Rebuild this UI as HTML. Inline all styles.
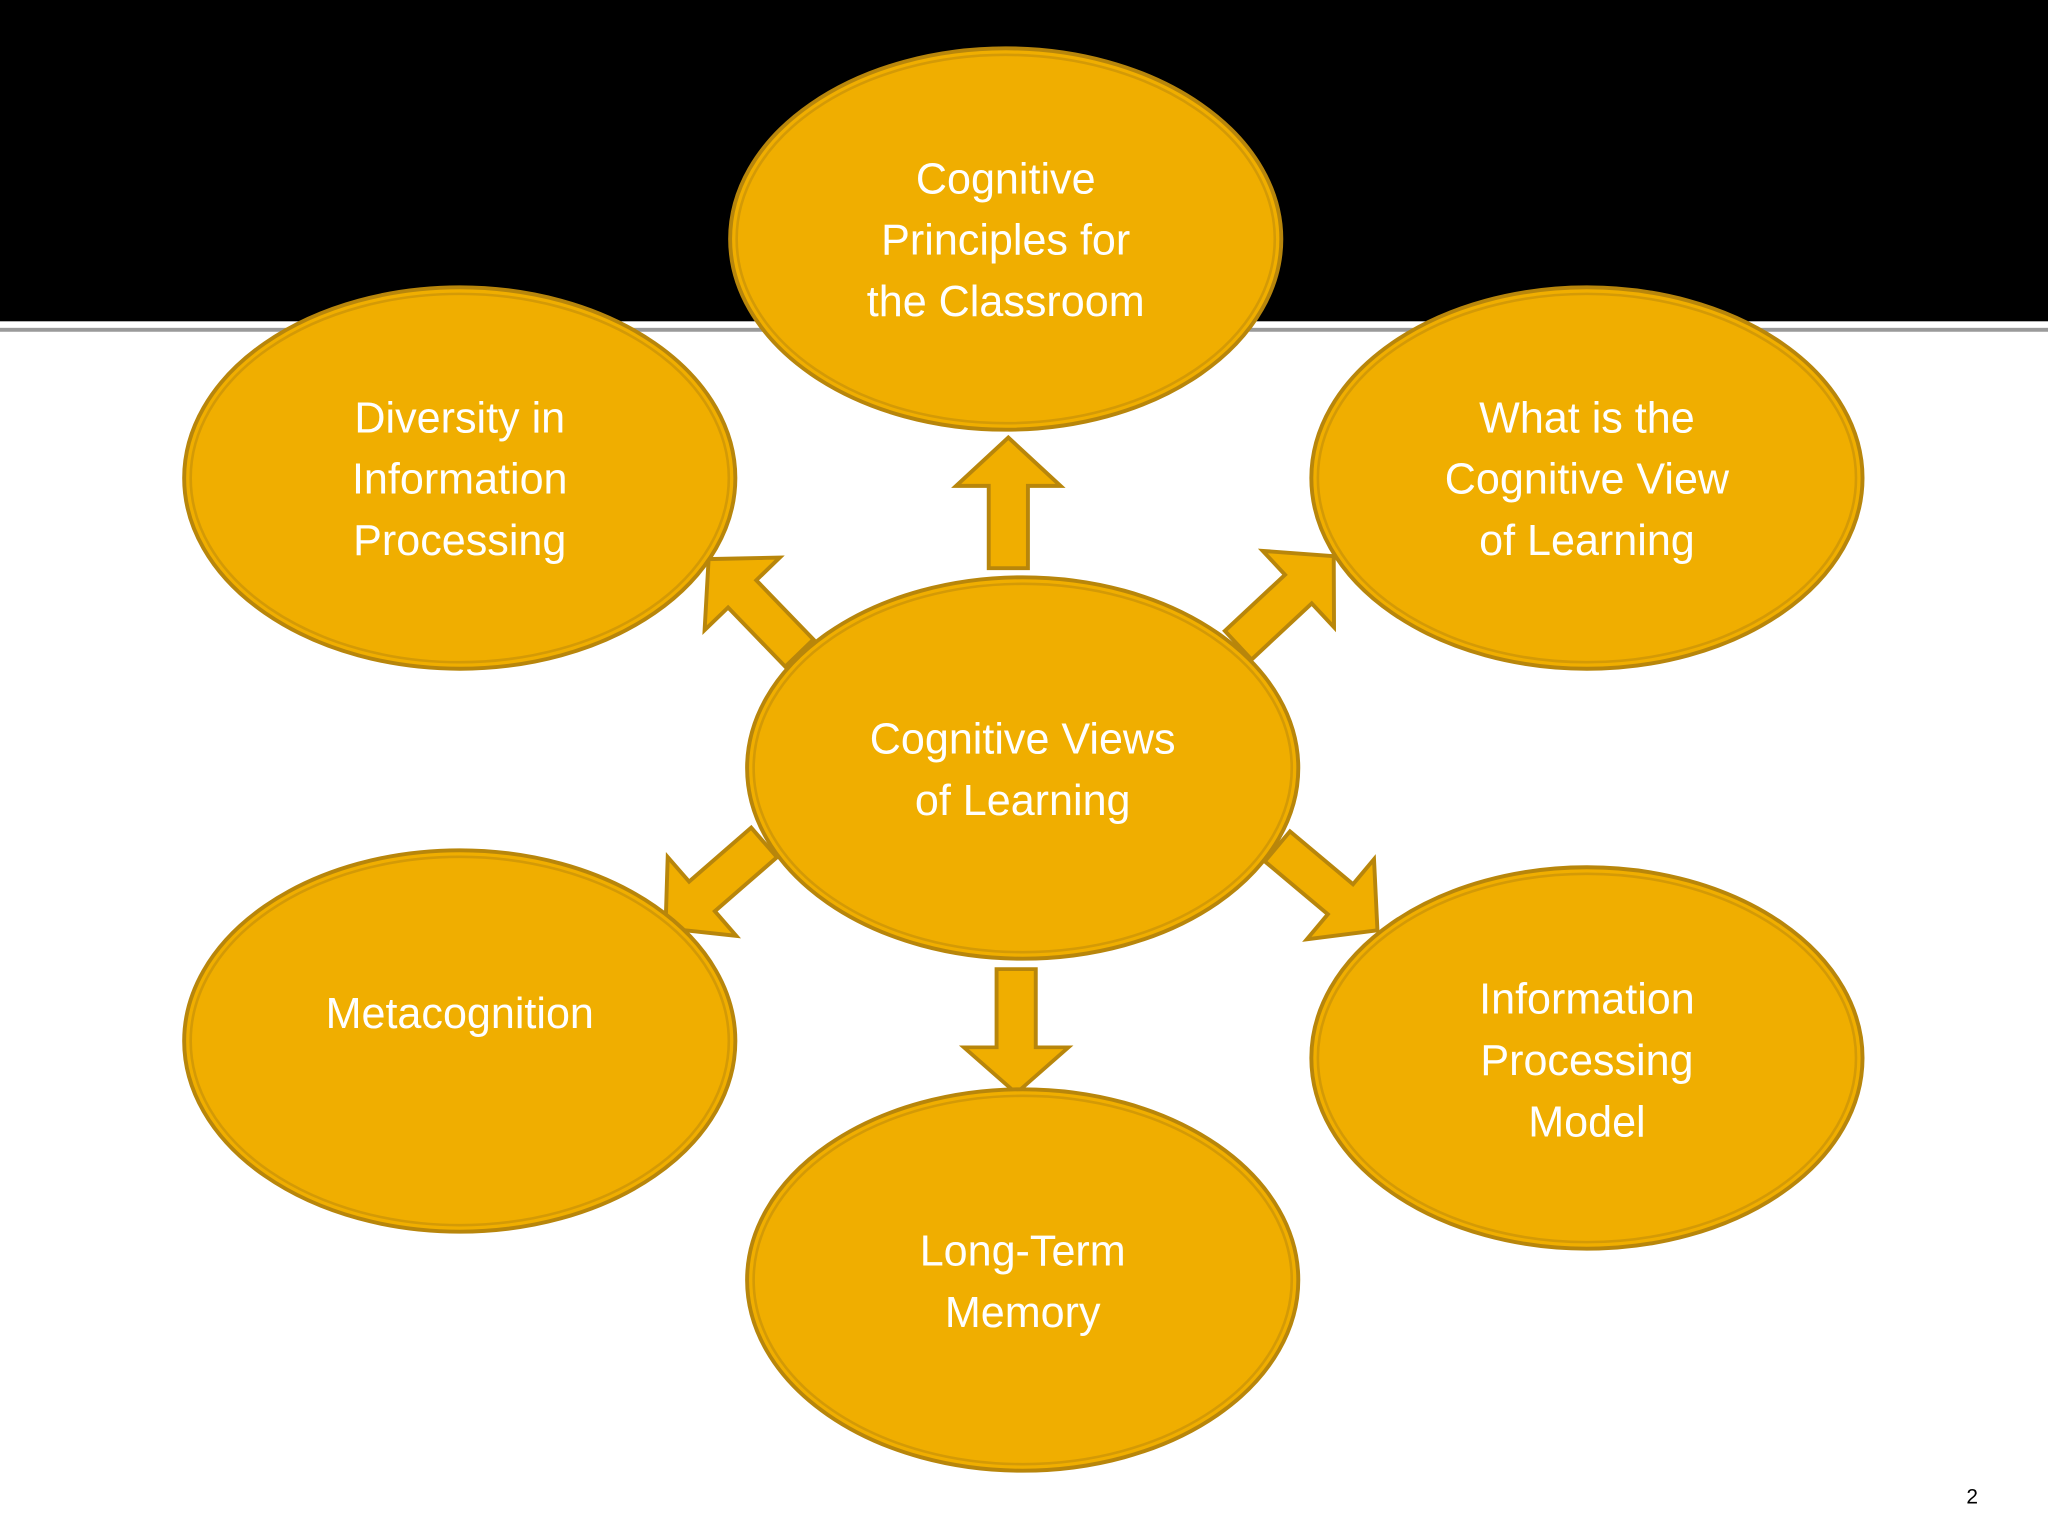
<!DOCTYPE html>
<html><head><meta charset="utf-8"><style>
html,body{margin:0;padding:0;background:#fff;}
svg{display:block;}
text{font-family:"Liberation Sans","DejaVu Sans",sans-serif;fill:#fff;font-size:33px;text-anchor:middle;}
</style></head><body>
<svg width="2048" height="1536" viewBox="0 0 1568 1176" xmlns="http://www.w3.org/2000/svg">
<rect x="0" y="0" width="1568" height="246" fill="#000"/>
<rect x="0" y="251" width="1568" height="3" fill="#9a9a9a"/>
<defs>
<g id="e">
<ellipse cx="0" cy="0" rx="211" ry="146" fill="#F0AE00" stroke="#B8860B" stroke-width="3"/>
<ellipse cx="0" cy="0" rx="206" ry="141" fill="none" stroke="#D49A06" stroke-width="2"/>
</g>
<polygon id="a" points="-15,0 -15,-63 -40,-63 0,-100 40,-63 15,-63 15,0" fill="#F0AE00" stroke="#B8860B" stroke-width="3" stroke-linejoin="miter"/>
</defs>
<use href="#a" transform="translate(772,435) rotate(0)"/>
<use href="#a" transform="translate(778,742) rotate(180) scale(1,0.95)"/>
<use href="#a" transform="translate(612,500) rotate(-44)"/>
<use href="#a" transform="translate(948,494) rotate(47)"/>
<use href="#a" transform="translate(585,645) rotate(-131)"/>
<use href="#a" transform="translate(978,648) rotate(130)"/>
<use href="#e" transform="translate(770,183)"/>
<use href="#e" transform="translate(352,366)"/>
<use href="#e" transform="translate(1215,366)"/>
<use href="#e" transform="translate(783,588)"/>
<use href="#e" transform="translate(352,797)"/>
<use href="#e" transform="translate(1215,810)"/>
<use href="#e" transform="translate(783,980)"/>
<text x="770" y="148">Cognitive</text>
<text x="770" y="195">Principles for</text>
<text x="770" y="242">the Classroom</text>
<text x="352" y="331">Diversity in</text>
<text x="352" y="378">Information</text>
<text x="352" y="425">Processing</text>
<text x="1215" y="331">What is the</text>
<text x="1215" y="378">Cognitive View</text>
<text x="1215" y="425">of Learning</text>
<text x="783" y="577">Cognitive Views</text>
<text x="783" y="624">of Learning</text>
<text x="352" y="787">Metacognition</text>
<text x="1215" y="776">Information</text>
<text x="1215" y="823">Processing</text>
<text x="1215" y="870">Model</text>
<text x="783" y="969">Long-Term</text>
<text x="783" y="1016">Memory</text>
<text x="1510" y="1151" style="fill:#000;font-size:16px">2</text>
</svg>
</body></html>
